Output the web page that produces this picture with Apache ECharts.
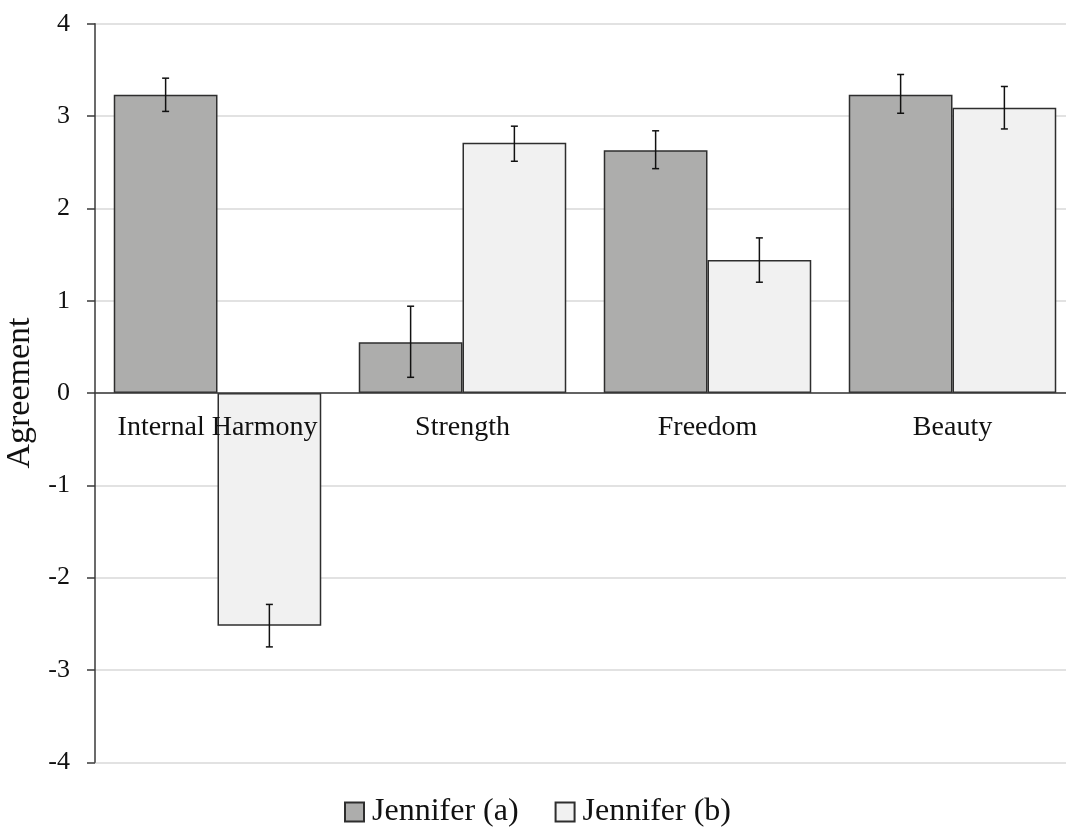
<!DOCTYPE html>
<html>
<head>
<meta charset="utf-8">
<script src="https://cdn.jsdelivr.net/npm/echarts@6/dist/echarts.min.js"></script>
<style>
html,body{margin:0;padding:0;background:#fff;}
#chart{width:1066px;height:828px;}
</style>
</head>
<body>
<div id="chart"></div>
<script>
var categories = ['Internal Harmony', 'Strength', 'Freedom', 'Beauty'];
var seriesNames = ['Jennifer (a)', 'Jennifer (b)'];
var valuesA = [3.23, 0.55, 2.63, 3.23];
var valuesB = [-2.52, 2.71, 1.44, 3.09];
var errLowA = [3.05, 0.17, 2.43, 3.03];
var errHighA = [3.41, 0.94, 2.84, 3.45];
var errLowB = [-2.75, 2.51, 1.20, 2.86];
var errHighB = [-2.29, 2.89, 1.68, 3.32];
var yTicks = [-4, -3, -2, -1, 0, 1, 2, 3, 4];

var FONT = '"Liberation Serif", "Times New Roman", serif';
var GAP = 0.153;

function errData(lo, hi) {
  return categories.map(function (c, i) { return [i, lo[i], hi[i]]; });
}
function makeErr(lo, hi, side) {
  return {
    type: 'custom',
    z: 5,
    silent: true,
    data: errData(lo, hi),
    encode: { x: 0, y: [1, 2] },
    renderItem: function (params, api) {
      var band = api.size([1, 0])[0];
      var bw = band * (1 - GAP) / 2;
      var c = api.coord([api.value(0), api.value(1)]);
      var c2 = api.coord([api.value(0), api.value(2)]);
      var x = c[0] + side * bw / 2;
      var cap = 3.5;
      var style = { stroke: '#111', lineWidth: 1.5, fill: null };
      return {
        type: 'group',
        children: [
          { type: 'line', shape: { x1: x, y1: c[1], x2: x, y2: c2[1] }, style: style },
          { type: 'line', shape: { x1: x - cap, y1: c[1], x2: x + cap, y2: c[1] }, style: style },
          { type: 'line', shape: { x1: x - cap, y1: c2[1], x2: x + cap, y2: c2[1] }, style: style }
        ]
      };
    }
  };
}

var chart = echarts.init(document.getElementById('chart'), null, { renderer: 'canvas' });
chart.setOption({
  backgroundColor: '#ffffff',
  animation: false,
  textStyle: { fontFamily: FONT },
  grid: { left: 95, top: 23.7, width: 980, bottom: 65.7, containLabel: false, outerBoundsMode: 'none' },
  legend: {
    left: 339,
    top: 791,
    itemWidth: 19,
    itemHeight: 19,
    itemGap: 36,
    icon: 'rect',
    data: seriesNames,
    textStyle: { fontFamily: FONT, fontSize: 32, color: '#111', padding: [0, 0, 0, 3] }
  },
  xAxis: {
    type: 'category',
    data: categories,
    z: 10,
    axisLine: { onZero: true, lineStyle: { color: '#3a3a3a', width: 1.5 } },
    axisTick: { show: false },
    axisLabel: { show: false },
    splitLine: { show: false }
  },
  yAxis: {
    type: 'value',
    min: -4,
    max: 4,
    interval: 1,
    name: 'Agreement',
    nameLocation: 'middle',
    nameGap: 56,
    nameRotate: 90,
    nameTextStyle: { fontFamily: FONT, fontSize: 34, color: '#111' },
    axisLine: { show: true, lineStyle: { color: '#3a3a3a', width: 1.5 } },
    axisTick: { show: true, length: 8, lineStyle: { color: '#3a3a3a', width: 1.5 } },
    axisLabel: {
      fontFamily: FONT, fontSize: 26, color: '#111', margin: 25,
      formatter: function (v) { return yTicks.indexOf(v) >= 0 ? String(v).replace('\u2212', '-') : ''; }
    },
    splitLine: { show: true, lineStyle: { color: '#d9d9d9', width: 1.5 } }
  },
  series: [
    {
      name: seriesNames[0],
      type: 'bar',
      data: valuesA,
      barGap: '0%',
      barCategoryGap: (GAP * 100) + '%',
      itemStyle: { color: '#adadac', borderColor: '#2e2e2e', borderWidth: 1.5 }
    },
    {
      name: seriesNames[1],
      type: 'bar',
      data: valuesB,
      barGap: '0%',
      barCategoryGap: (GAP * 100) + '%',
      itemStyle: { color: '#f1f1f1', borderColor: '#2e2e2e', borderWidth: 1.5 }
    },
    makeErr(errLowA, errHighA, -1),
    makeErr(errLowB, errHighB, 1),
    {
      type: 'custom',
      z: 20,
      silent: true,
      data: categories.map(function (c, i) { return [i, 0]; }),
      encode: { x: 0, y: 1 },
      renderItem: function (params, api) {
        var p = api.coord([api.value(0), 0]);
        return {
          type: 'text',
          x: p[0],
          y: p[1] + 21,
          style: {
            text: categories[params.dataIndex],
            fontFamily: FONT,
            fontSize: 28,
            fill: '#111',
            align: 'center',
            verticalAlign: 'top'
          }
        };
      }
    }
  ]
});
</script>
</body>
</html>
